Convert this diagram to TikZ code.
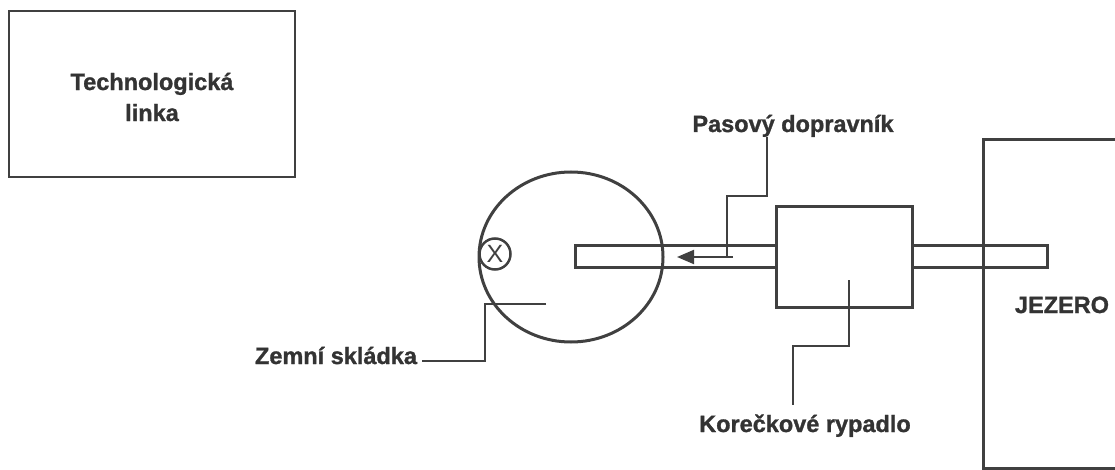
\documentclass[tikz,border=0pt]{standalone}
\usepackage{fontspec}
\setmainfont{Liberation Sans}[BoldFeatures={FakeBold=1.2}]
\usetikzlibrary{arrows.meta}
\definecolor{ink}{HTML}{404040}
\begin{document}
\begin{tikzpicture}[x=1pt,y=-1pt,
  thick line/.style={draw=ink,line width=3pt},
  thin line/.style={draw=ink,line width=2pt},
  lbl/.style={font=\fontsize{23.5}{31}\selectfont\bfseries,text=ink!80!black,inner sep=0pt,align=center}]
\useasboundingbox (0,0) rectangle (1115,470);
\clip (0,0) rectangle (1115,470);
% Technologicka linka
\draw[thin line] (9,11) rectangle (295,177);
\node[lbl] (tl) at (152,97) {Technologická\\linka};
% conveyor strip
\draw[thick line] (575,245) rectangle (1047,267);
% earth dump
\draw[thick line] (571,257) ellipse [x radius=92, y radius=85];
\node[draw=ink,line width=2.5pt,circle,minimum size=31pt,inner sep=0pt,text=ink,font=\fontsize{25}{25}\selectfont] (x) at (495,254) {X};
% lake
\draw[thick line] (983,140) rectangle (1130,468);
\node[lbl,anchor=base] (jez) at (1062,313) {JEZERO};
% excavator
\draw[thick line,fill=white] (776,207) rectangle (912,307);
% arrow
\coordinate (aend) at (733,257);
\coordinate (atip) at (677,257);
\draw[thin line,-{Triangle[length=17pt,width=14pt]}] (aend) -- (atip);
% labels
\node[lbl,anchor=base] (pas) at (793,132) {Pasový dopravník};
\node[lbl,anchor=base] (kor) at (805,432) {Korečkové rypadlo};
\node[lbl,anchor=base,outer sep=5pt] (zem) at (336,364) {Zemní skládka};
% leaders
\coordinate (p0) at (727,257);
\draw[thin line] (p0) |- (767,196) -- (pas.south -| 767,0);
\coordinate (k0) at (849,280);
\draw[thin line] (k0) |- (793,346) -- (793,405);
\coordinate (z0) at (546,304);
\draw[thin line] (z0) -| (485,361) -- (zem.east |- 0,361);
\end{tikzpicture}
\end{document}
